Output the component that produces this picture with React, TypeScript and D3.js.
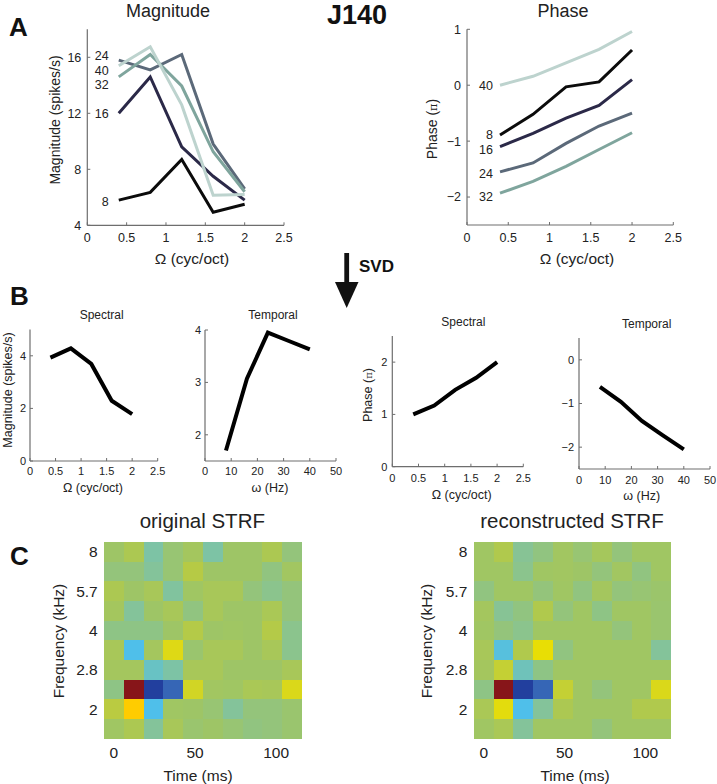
import React from 'react';
import * as d3 from 'd3';

// ---------- data ----------
const spectralFreqs = [0.4, 0.8, 1.2, 1.6, 2.0]; // Ω (cyc/oct)
const temporalFreqs = [8, 16, 24, 32, 40]; // ω (Hz)
const seriesNames = ['8', '16', '24', '32', '40'];
const seriesColors = ['#0b0b0b', '#2b2948', '#5b6979', '#7fa59d', '#bdd3ce'];

const magnitudeSeries = [
  [5.8, 6.35, 8.7, 4.93, 5.5],
  [12.0, 14.6, 9.6, 7.5, 5.8],
  [15.8, 15.1, 16.2, 9.8, 6.6],
  [14.6, 16.2, 13.95, 9.25, 6.4],
  [15.4, 16.75, 12.6, 6.15, 6.2],
];
const phaseSeries = [
  [-0.89, -0.52, -0.03, 0.06, 0.63],
  [-1.1, -0.86, -0.59, -0.36, 0.1],
  [-1.55, -1.39, -1.04, -0.73, -0.5],
  [-1.93, -1.72, -1.45, -1.15, -0.85],
  [0.0, 0.16, 0.4, 0.64, 0.96],
];

const svdSpectralMag = [3.93, 4.28, 3.69, 2.29, 1.78];
const svdTemporalMag = [1.7, 3.07, 3.95, 3.79, 3.63];
const svdSpectralPhase = [1.0, 1.17, 1.47, 1.7, 2.0];
const svdTemporalPhase = [-0.62, -0.96, -1.4, -1.73, -2.05];

const omegaTicks = [0, 0.5, 1, 1.5, 2, 2.5];
const hzTicks = [0, 10, 20, 30, 40, 50];
const magTicksA = [4, 8, 12, 16];
const phaseTicksA = [-2, -1, 0, 1];
const magTicksB1 = [0, 2, 4];
const magTicksB2 = [2, 3, 4];
const phaseTicksB1 = [0, 1, 2];
const phaseTicksB2 = [-2, -1, 0];

// STRF (rows: high freq -> low freq, columns: time bins)
const strfTimes = [0, 12.2, 24.4, 36.6, 48.8, 61, 73.2, 85.4, 97.6, 109.8];
const strfFreqs = [8, 6.73, 5.66, 4.76, 4, 3.36, 2.83, 2.38, 2, 1.68];
const freqTickValues = [8, 5.66, 4, 2.83, 2];
const freqTickLabels = ['8', '5.7', '4', '2.8', '2'];
const timeTicks = [0, 50, 100];

const originalSTRF = [
  [0, 0.12, -0.25, -0.05, 0.05, -0.25, 0, 0, 0.12, -0.08],
  [-0.08, -0.08, -0.2, -0.05, 0.2, 0, 0, 0, -0.1, 0.03],
  [0.12, 0, 0.08, -0.22, 0.02, 0.08, 0.08, -0.08, -0.15, -0.08],
  [0.05, -0.2, 0, 0.08, -0.1, 0.08, 0, 0, 0.1, -0.08],
  [-0.12, -0.12, -0.12, 0, 0.18, 0, 0.02, 0, 0.18, -0.15],
  [0.08, -0.55, 0.05, 0.42, -0.03, 0.08, 0.08, 0, 0.08, -0.15],
  [0.05, 0.05, -0.4, -0.25, 0.08, 0.08, 0, 0, 0, 0.08],
  [-0.12, 1.0, -1.0, -0.82, 0.35, 0.03, 0.02, 0.1, 0.08, 0.4],
  [0.22, 0.6, -0.55, 0.02, 0, -0.05, -0.2, -0.08, -0.08, -0.03],
  [0.02, 0.12, -0.2, 0.08, -0.03, 0, -0.05, -0.1, -0.08, -0.03],
];
const reconstructedSTRF = [
  [0.02, 0.15, -0.18, -0.1, 0.03, -0.05, 0.06, -0.08, 0.02, 0.02],
  [0.02, 0.02, -0.15, 0.02, 0.03, 0, -0.08, 0.03, -0.1, 0.02],
  [-0.1, 0.02, 0.02, -0.08, 0.02, -0.1, 0.05, -0.08, -0.05, -0.02],
  [0.05, -0.18, -0.1, 0.15, -0.08, 0.02, -0.12, 0.02, 0.02, -0.03],
  [0.02, -0.08, -0.15, 0.02, 0.02, 0.02, 0.02, -0.08, 0.02, -0.03],
  [0.08, -0.5, 0.15, 0.48, -0.1, 0.02, 0.02, 0.02, 0.02, -0.2],
  [0.05, 0.28, -0.35, -0.12, 0.02, 0.02, 0.02, 0.02, 0.02, 0.02],
  [-0.12, 1.0, -1.0, -0.82, 0.28, 0.02, -0.08, 0.02, 0.02, 0.4],
  [0.1, 0.45, -0.55, -0.2, 0.12, 0.02, 0.02, 0.02, 0.15, 0.15],
  [0.02, 0.1, -0.2, 0.02, 0.02, 0.02, -0.08, 0.02, 0.02, 0.02],
];

const FONT = 'Liberation Sans, Arial, Helvetica, sans-serif';
const AXIS = '#6e6e6e';
const TXT = '#222';

const fmt = (t: number) => (t < 0 ? '\u2212' + String(-t) : String(t));

const strfColor = d3
  .scaleLinear<string>()
  .domain([-1, -0.82, -0.55, -0.4, -0.2, 0, 0.2, 0.4, 0.5, 0.6, 1])
  .range(['#223f9e', '#3666b6', '#4fbfea', '#68c2c4', '#84c39a', '#9ec566', '#b6ca45', '#dad81a', '#ecdf00', '#ffcc00', '#871519'])
  .interpolate(d3.interpolateRgb)
  .clamp(true);

type PanelProps = {
  left: number; right: number; top: number; bottom: number;
  xDomain: [number, number]; yDomain: [number, number];
  xTicks: number[]; yTicks: number[];
  xs: number[]; series: number[][]; colors: string[]; strokeWidth: number;
  tickFont: number; xTickDy: number; yTickDx: number;
  title: string; titleX?: number; titleY: number; titleFont: number;
  xLabel: React.ReactNode; xLabelX?: number; xLabelY: number; xLabelFont: number;
  yLabel?: React.ReactNode; yLabelX?: number; yLabelY?: number; yLabelFont?: number;
  seriesLabels?: { text: string; nudge: number; dx: number }[];
  labelFont?: number;
};

function LinePanel(p: PanelProps) {
  const x = d3.scaleLinear().domain(p.xDomain).range([p.left, p.right]);
  const y = d3.scaleLinear().domain(p.yDomain).range([p.bottom, p.top]);
  const line = d3
    .line<number>()
    .x((_, i) => x(p.xs[i]))
    .y((d) => y(d));
  const cx = (p.left + p.right) / 2;
  return (
    <g fontFamily={FONT}>
      <line x1={p.left} x2={p.left} y1={p.top} y2={p.bottom} stroke={AXIS} strokeWidth={1.2} />
      <line x1={p.left} x2={p.right} y1={p.bottom} y2={p.bottom} stroke={AXIS} strokeWidth={1.2} />
      {p.xTicks.map((t) => (
        <g key={'x' + t}>
          <line x1={x(t)} x2={x(t)} y1={p.bottom} y2={p.bottom - 3} stroke={AXIS} strokeWidth={1} />
          <text x={x(t)} y={p.bottom + p.xTickDy} textAnchor="middle" fontSize={p.tickFont} fill={TXT}>
            {fmt(t)}
          </text>
        </g>
      ))}
      {p.yTicks.map((t) => (
        <g key={'y' + t}>
          <line x1={p.left} x2={p.left + 3} y1={y(t)} y2={y(t)} stroke={AXIS} strokeWidth={1} />
          <text x={p.left - p.yTickDx} y={y(t)} dy="0.35em" textAnchor="end" fontSize={p.tickFont} fill={TXT}>
            {fmt(t)}
          </text>
        </g>
      ))}
      {p.series.map((s, i) => (
        <path key={'s' + i} d={line(s) || ''} fill="none" stroke={p.colors[i]} strokeWidth={p.strokeWidth} strokeLinejoin="miter" strokeLinecap="butt" />
      ))}
      {p.seriesLabels &&
        p.seriesLabels.map((l, i) => (
          <text key={'l' + i} x={x(p.xs[0]) - l.dx} y={y(p.series[i][0]) + l.nudge} dy="0.35em" textAnchor="end" fontSize={p.labelFont} fill={TXT}>
            {l.text}
          </text>
        ))}
      <text x={p.titleX ?? cx} y={p.titleY} textAnchor="middle" fontSize={p.titleFont} fill={TXT}>
        {p.title}
      </text>
      <text x={p.xLabelX ?? cx} y={p.xLabelY} textAnchor="middle" fontSize={p.xLabelFont} fill={TXT}>
        {p.xLabel}
      </text>
      {p.yLabel && (
        <text
          transform={`translate(${p.yLabelX},${p.yLabelY}) rotate(-90)`}
          textAnchor="middle"
          dy="0.35em"
          fontSize={p.yLabelFont}
          fill={TXT}
        >
          {p.yLabel}
        </text>
      )}
    </g>
  );
}

type HeatProps = {
  left: number; right: number; top: number; bottom: number;
  data: number[][]; title: string; titleX: number;
  yTickRight: number; yLabelX: number; xLabelX: number;
};

function Heatmap(h: HeatProps) {
  const nT = strfTimes.length;
  const nF = strfFreqs.length;
  // cell edges (shared between neighbours)
  const tEdges = [strfTimes[0] - (strfTimes[1] - strfTimes[0]) / 2];
  for (let i = 0; i < nT - 1; i++) tEdges.push((strfTimes[i] + strfTimes[i + 1]) / 2);
  tEdges.push(strfTimes[nT - 1] + (strfTimes[nT - 1] - strfTimes[nT - 2]) / 2);
  const fEdges = [strfFreqs[0] * Math.sqrt(strfFreqs[0] / strfFreqs[1])];
  for (let i = 0; i < nF - 1; i++) fEdges.push(Math.sqrt(strfFreqs[i] * strfFreqs[i + 1]));
  fEdges.push(strfFreqs[nF - 1] * Math.sqrt(strfFreqs[nF - 1] / strfFreqs[nF - 2]));

  const x = d3.scaleLinear().domain([tEdges[0], tEdges[nT]]).range([h.left, h.right]);
  const y = d3.scaleLog().domain([fEdges[0], fEdges[nF]]).range([h.top, h.bottom]);
  const cells: React.ReactNode[] = [];
  h.data.forEach((row, r) => {
    row.forEach((v, c) => {
      const x0 = Math.round(x(tEdges[c]));
      const x1 = Math.round(x(tEdges[c + 1]));
      const y0 = Math.round(y(fEdges[r]));
      const y1 = Math.round(y(fEdges[r + 1]));
      cells.push(
        <rect key={r + '-' + c} x={x0} y={y0} width={x1 - x0} height={y1 - y0} fill={strfColor(v)} shapeRendering="crispEdges" />
      );
    });
  });
  return (
    <g fontFamily={FONT}>
      {cells}
      <text x={h.titleX} y={528} textAnchor="middle" fontSize={20.5} fill={TXT}>
        {h.title}
      </text>
      {freqTickValues.map((f, i) => (
        <text key={'f' + i} x={h.yTickRight} y={y(f)} dy="0.35em" textAnchor="end" fontSize={15.5} fill={TXT}>
          {freqTickLabels[i]}
        </text>
      ))}
      {timeTicks.map((t) => (
        <text key={'t' + t} x={x(t)} y={758} textAnchor="middle" fontSize={15.5} fill={TXT}>
          {t}
        </text>
      ))}
      <text x={h.xLabelX} y={781} textAnchor="middle" fontSize={15.5} fill={TXT}>
        Time (ms)
      </text>
      <text transform={`translate(${h.yLabelX},${641}) rotate(-90)`} textAnchor="middle" dy="0.35em" fontSize={15.5} fill={TXT}>
        Frequency (kHz)
      </text>
    </g>
  );
}

const PhaseLabel = () => (
  <>
    Phase (<tspan fontFamily="DejaVu Serif, serif" fontSize="0.8em">π</tspan>)
  </>
);

export default function App() {
  const magLabels = [
    { text: seriesNames[0], nudge: 2, dx: 10 },
    { text: seriesNames[1], nudge: 0, dx: 10 },
    { text: seriesNames[2], nudge: -4, dx: 10 },
    { text: seriesNames[3], nudge: 8, dx: 10 },
    { text: seriesNames[4], nudge: 4.5, dx: 10 },
  ];
  const phaseLabels = [
    { text: seriesNames[0], nudge: -0.5, dx: 7 },
    { text: seriesNames[1], nudge: 3, dx: 7 },
    { text: seriesNames[2], nudge: 1.5, dx: 7 },
    { text: seriesNames[3], nudge: 3, dx: 7 },
    { text: seriesNames[4], nudge: 0, dx: 7 },
  ];
  return (
    <svg width={717} height={784} style={{ position: 'absolute', left: 0, top: 0, background: '#fff' }} fontFamily={FONT}>
      <rect width={717} height={784} fill="#fff" />
      {/* panel letters & headline */}
      <text x={9} y={36} fontSize={26} fontWeight="bold" fill="#111">A</text>
      <text x={10} y={305} fontSize={26} fontWeight="bold" fill="#111">B</text>
      <text x={10} y={565} fontSize={26} fontWeight="bold" fill="#111">C</text>
      <text x={357} y={24} fontSize={27} fontWeight="bold" textAnchor="middle" fill="#111">J140</text>

      {/* SVD arrow */}
      <rect x={344.3} y={253} width={4.8} height={31} fill="#111" />
      <path d="M335,282 L358.5,282 L346.7,308 Z" fill="#111" />
      <text x={359} y={272} fontSize={17} fontWeight="bold" fill="#111">SVD</text>

      {/* Panel A */}
      <LinePanel
        left={87.3} right={284} top={29.3} bottom={225.3}
        xDomain={[0, 2.5]} yDomain={[4, 18]}
        xTicks={omegaTicks} yTicks={magTicksA}
        xs={spectralFreqs} series={magnitudeSeries} colors={seriesColors} strokeWidth={3}
        tickFont={12.5} xTickDy={17} yTickDx={6}
        title="Magnitude" titleX={168} titleY={17} titleFont={18}
        xLabel="Ω (cyc/oct)" xLabelX={192} xLabelY={264} xLabelFont={15.5}
        yLabel="Magnitude (spikes/s)" yLabelX={55} yLabelY={120} yLabelFont={14}
        seriesLabels={magLabels} labelFont={12.5}
      />
      <LinePanel
        left={467} right={673.3} top={29.3} bottom={225}
        xDomain={[0, 2.5]} yDomain={[-2.5, 1]}
        xTicks={omegaTicks} yTicks={phaseTicksA}
        xs={spectralFreqs} series={phaseSeries} colors={seriesColors} strokeWidth={3}
        tickFont={12.5} xTickDy={17} yTickDx={6}
        title="Phase" titleX={563} titleY={17} titleFont={18}
        xLabel="Ω (cyc/oct)" xLabelX={577} xLabelY={264} xLabelFont={15.5}
        yLabel={<PhaseLabel />} yLabelX={432} yLabelY={129} yLabelFont={14}
        seriesLabels={phaseLabels} labelFont={12.5}
      />

      {/* Panel B */}
      <LinePanel
        left={30} right={157.7} top={329.5} bottom={461}
        xDomain={[0, 2.5]} yDomain={[0, 5]}
        xTicks={omegaTicks} yTicks={magTicksB1}
        xs={spectralFreqs} series={[svdSpectralMag]} colors={['#000']} strokeWidth={4}
        tickFont={11} xTickDy={14} yTickDx={4}
        title="Spectral" titleX={101.7} titleY={319} titleFont={12}
        xLabel="Ω (cyc/oct)" xLabelX={93} xLabelY={492} xLabelFont={12.5}
        yLabel="Magnitude (spikes/s)" yLabelX={8} yLabelY={390} yLabelFont={12.5}
      />
      <LinePanel
        left={205} right={336} top={330} bottom={461}
        xDomain={[0, 50]} yDomain={[1.5, 4]}
        xTicks={hzTicks} yTicks={magTicksB2}
        xs={temporalFreqs} series={[svdTemporalMag]} colors={['#000']} strokeWidth={4}
        tickFont={11} xTickDy={14} yTickDx={4}
        title="Temporal" titleX={273} titleY={319} titleFont={12}
        xLabel="ω (Hz)" xLabelX={270} xLabelY={492} xLabelFont={12.5}
      />
      <LinePanel
        left={392.3} right={523.3} top={336} bottom={466.7}
        xDomain={[0, 2.5]} yDomain={[0, 2.5]}
        xTicks={omegaTicks} yTicks={phaseTicksB1}
        xs={spectralFreqs} series={[svdSpectralPhase]} colors={['#000']} strokeWidth={4}
        tickFont={11} xTickDy={15} yTickDx={5}
        title="Spectral" titleX={463.3} titleY={326} titleFont={12}
        xLabel="Ω (cyc/oct)" xLabelX={461.7} xLabelY={499} xLabelFont={12.5}
        yLabel={<PhaseLabel />} yLabelX={368} yLabelY={395} yLabelFont={12.5}
      />
      <LinePanel
        left={579} right={710} top={338} bottom={469}
        xDomain={[0, 50]} yDomain={[-2.5, 0.5]}
        xTicks={hzTicks} yTicks={phaseTicksB2}
        xs={temporalFreqs} series={[svdTemporalPhase]} colors={['#000']} strokeWidth={4}
        tickFont={11} xTickDy={15} yTickDx={5}
        title="Temporal" titleX={646.7} titleY={328} titleFont={12}
        xLabel="ω (Hz)" xLabelX={641.7} xLabelY={500} xLabelFont={12.5}
      />

      {/* Panel C */}
      <Heatmap left={104} right={302} top={542} bottom={739} data={originalSTRF} title="original STRF" titleX={202.3} yTickRight={97.7} yLabelX={58.3} xLabelX={198} />
      <Heatmap left={474} right={671} top={542} bottom={739} data={reconstructedSTRF} title="reconstructed STRF" titleX={572} yTickRight={467.3} yLabelX={426.7} xLabelX={575} />
    </svg>
  );
}
